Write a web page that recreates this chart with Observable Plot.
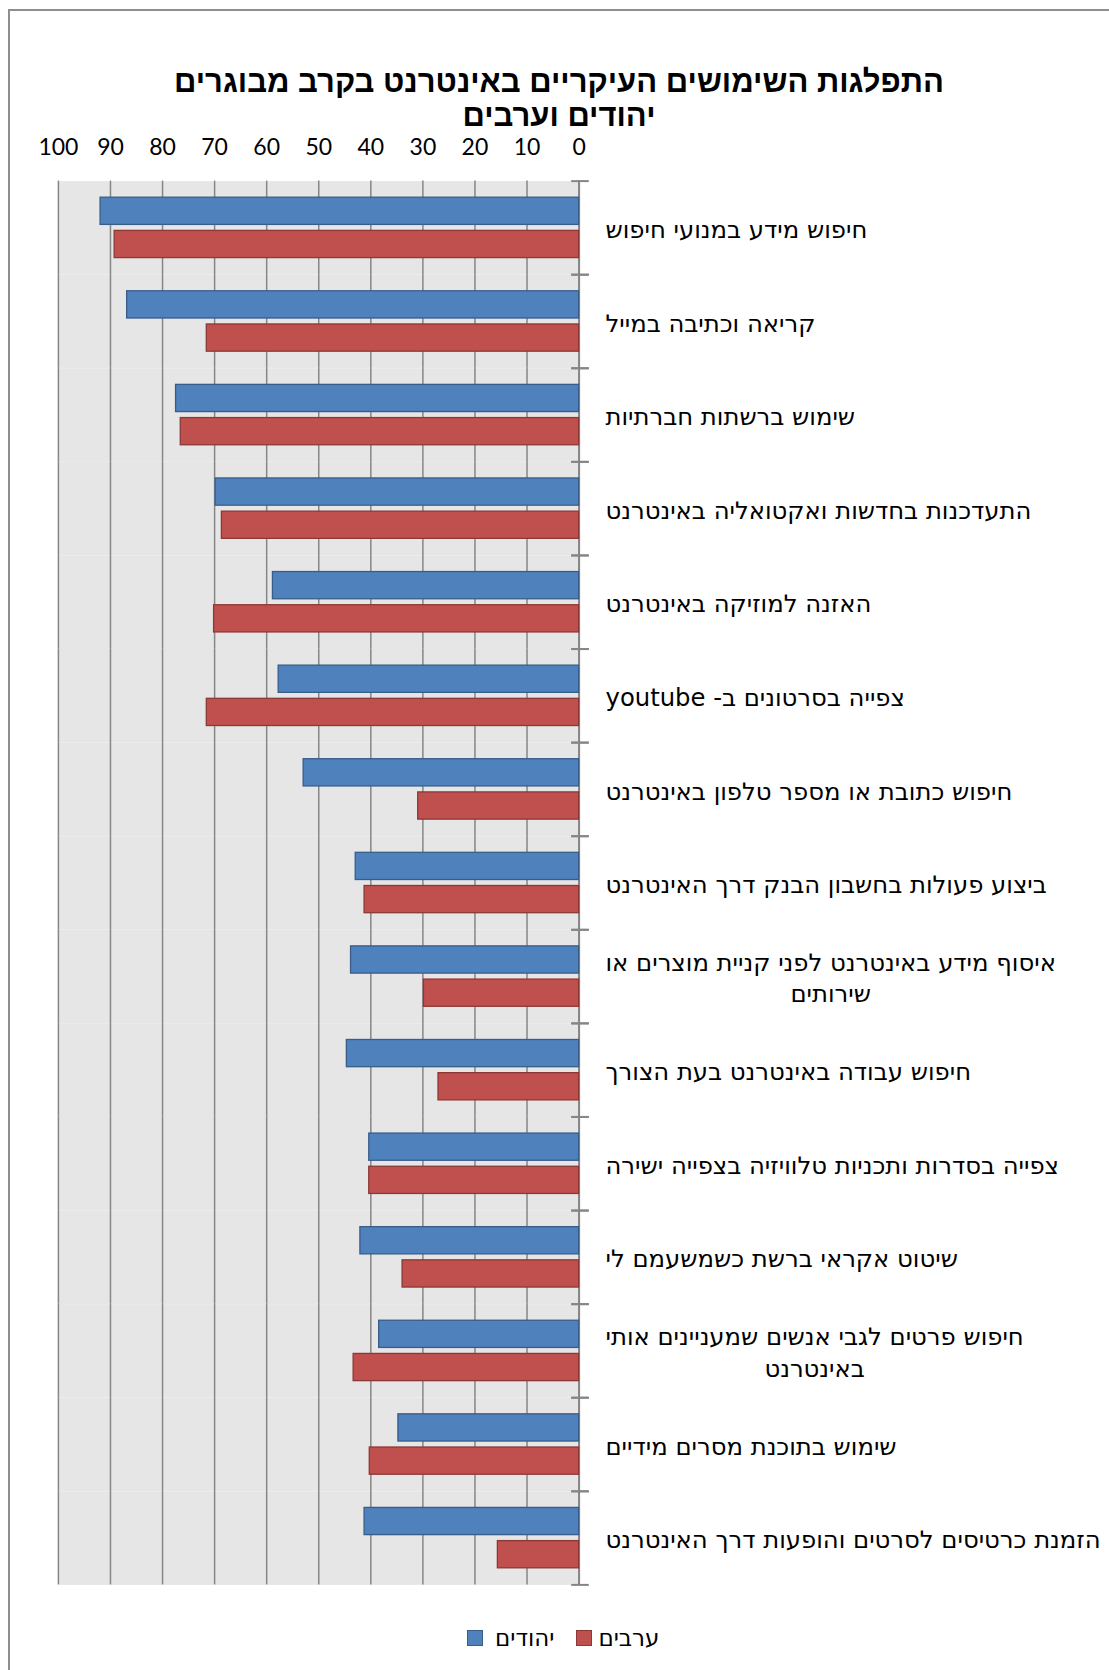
<!DOCTYPE html>
<html lang="he">
<head>
<meta charset="utf-8">
<script src="https://cdn.jsdelivr.net/npm/d3@7"></script>
<script src="https://cdn.jsdelivr.net/npm/@observablehq/plot@0.6"></script>
<style>
  html, body { margin: 0; padding: 0; background: #fff; }
  body { position: relative; width: 1109px; height: 1670px; overflow: hidden; font-family: "DejaVu Sans", sans-serif; }
  #border { position: absolute; left: 8px; top: 9px; width: 1300px; height: 1900px; border: 2px solid #8e8e8e; }
  #title { position: absolute; left: 0; top: 65px; width: 1118px; text-align: center; direction: rtl;
           font: bold 31px "Liberation Sans", sans-serif; line-height: 34px; color: #000; }
  #chart { position: absolute; left: 0; top: 100px; }
  #legend { position: absolute; left: 467px; top: 1625px; display: flex; align-items: center;
            font: 23px "DejaVu Sans", sans-serif; color: #000; }
  #legend .sw { width: 14px; height: 14px; border: 1px solid; display: inline-block; }
</style>
</head>
<body>
<div id="border"></div>
<div id="title"></div>
<div id="chart"></div>
<div id="legend"></div>
<script>
// Main internet uses among adult Jews and Arabs (percent)
const titleLines = ["התפלגות השימושים העיקריים באינטרנט בקרב מבוגרים", "יהודים וערבים"];

const categories = [
  "חיפוש מידע במנועי חיפוש",
  "קריאה וכתיבה במייל",
  "שימוש ברשתות חברתיות",
  "התעדכנות בחדשות ואקטואליה באינטרנט",
  "האזנה למוזיקה באינטרנט",
  "צפייה בסרטונים ב- youtube",
  "חיפוש כתובת או מספר טלפון באינטרנט",
  "ביצוע פעולות בחשבון הבנק דרך האינטרנט",
  "איסוף מידע באינטרנט לפני קניית מוצרים או\nשירותים",
  "חיפוש עבודה באינטרנט בעת הצורך",
  "צפייה בסדרות ותכניות טלוויזיה בצפייה ישירה",
  "שיטוט אקראי ברשת כשמשעמם לי",
  "חיפוש פרטים לגבי אנשים שמעניינים אותי\nבאינטרנט",
  "שימוש בתוכנת מסרים מידיים",
  "הזמנת כרטיסים לסרטים והופעות דרך האינטרנט"
];

const groups = ["יהודים", "ערבים"];
const jews  = [91.9, 86.8, 77.4, 69.8, 58.8, 57.7, 52.9, 42.9, 43.8, 44.6, 40.3, 42.0, 38.4, 34.7, 41.2];
const arabs = [89.2, 71.5, 76.5, 68.6, 70.1, 71.5, 30.9, 41.2, 29.8, 27.0, 40.3, 33.9, 43.3, 40.2, 15.6];
const xTicks = [0, 10, 20, 30, 40, 50, 60, 70, 80, 90, 100];

const fills   = ["#4F81BD", "#C0504D"];
const strokes = ["#385D8A", "#8C3836"];
const axisGray = "#868686";

const rows = categories.flatMap((c, i) => [
  {category: c, group: groups[0], value: jews[i]},
  {category: c, group: groups[1], value: arabs[i]}
]);

document.getElementById("title").innerHTML = titleLines.map(t => `<div>${t}</div>`).join("");

// right-to-left embedding so mixed Hebrew/Latin labels read correctly
const rtl = d => "\u202B" + d + "\u202C";

// short cross ticks on the value axis between categories
const separator = {stroke: axisGray, strokeWidth: 2, insetLeft: 513.8, insetRight: -8.7};

const chart = Plot.plot({
  width: 1109,
  height: 1504,
  marginTop: 80.6,
  marginBottom: 19.6,
  marginLeft: 57.9,
  marginRight: 530.4,
  style: {fontFamily: "DejaVu Sans", fontSize: "24px", color: "#000", background: "transparent"},
  x: {domain: [0, 100], reverse: true, axis: null},
  y: {domain: groups, paddingInner: 0.18, paddingOuter: 0.5, round: false, axis: null},
  fy: {domain: categories, padding: 0, round: false, axis: null},
  marks: [
    Plot.frame({fill: "#E6E6E6", stroke: null}),
    Plot.gridX(xTicks, {stroke: axisGray, strokeOpacity: 1, strokeWidth: 1.5}),
    Plot.ruleX([0], {stroke: axisGray, strokeWidth: 2}),
    Plot.frame({anchor: "top", ...separator}),
    Plot.frame({anchor: "bottom", ...separator}),
    Plot.barX(rows, {filter: d => d.group === groups[0], fy: "category", y: "group", x: "value",
                     fill: fills[0], stroke: strokes[0], strokeWidth: 1.3}),
    Plot.barX(rows, {filter: d => d.group === groups[1], fy: "category", y: "group", x: "value",
                     fill: fills[1], stroke: strokes[1], strokeWidth: 1.3}),
    Plot.axisX(xTicks, {anchor: "top", label: null, tickSize: 0, tickPadding: 26.5,
                        fontFamily: "Lato", fontSize: 23}),
    Plot.axisFy({anchor: "right", label: null, tickSize: 0, tickPadding: 26.4, textAnchor: "start",
                 lineHeight: 1.3, tickFormat: rtl, fontSize: 24.3})
  ]
});
document.getElementById("chart").appendChild(chart);

// centre the second line of wrapped category labels under the first
chart.querySelectorAll("text").forEach(t => {
  const spans = t.querySelectorAll("tspan");
  if (spans.length > 1) {
    const w = spans[0].getComputedTextLength();
    t.setAttribute("text-anchor", "middle");
    const tr = t.getAttribute("transform") || "";
    t.setAttribute("transform", tr + ` translate(${w / 2},0)`);
  }
});

// legend: swatch followed by label, for each series
const legend = document.getElementById("legend");
groups.forEach((g, i) => {
  const sw = document.createElement("span");
  sw.className = "sw";
  sw.style.background = fills[i];
  sw.style.borderColor = strokes[i];
  sw.style.marginLeft = i === 0 ? "0" : "22px";
  sw.style.marginRight = i === 0 ? "12px" : "6px";
  const lb = document.createElement("span");
  lb.textContent = g;
  legend.append(sw, lb);
});
</script>
</body>
</html>
